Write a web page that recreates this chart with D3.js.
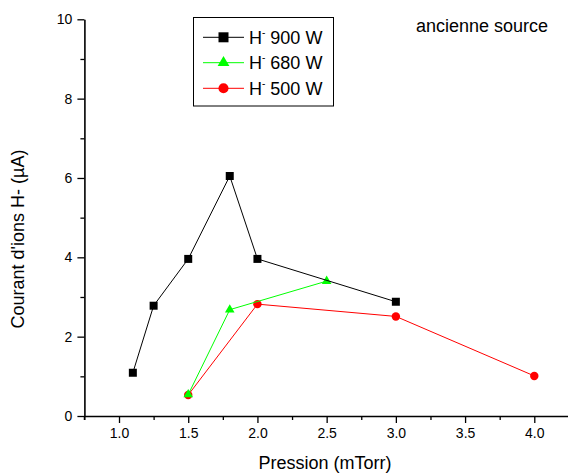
<!DOCTYPE html>
<html><head><meta charset="utf-8">
<script src="https://cdn.jsdelivr.net/npm/d3@7"></script>
<style>
html,body{margin:0;padding:0;background:#fff;}
svg{display:block;font-family:"Liberation Sans",Arial,sans-serif;}
</style></head>
<body><svg id="c" width="568" height="473"></svg>
<script>
const pressure900 = [1.1, 1.25, 1.5, 1.8, 2.0, 3.0];
const current900  = [1.09, 2.78, 3.96, 6.05, 3.96, 2.88];
const pressure680 = [1.5, 1.8, 2.5];
const current680  = [0.54, 2.68, 3.40];
const pressure500 = [1.5, 2.0, 3.0, 4.0];
const current500  = [0.53, 2.82, 2.51, 1.01];
const xMajorTicks = [1.0, 1.5, 2.0, 2.5, 3.0, 3.5, 4.0];
const xMinorTicks = [0.75, 1.25, 1.75, 2.25, 2.75, 3.25, 3.75];
const yMajorTicks = [0, 2, 4, 6, 8, 10];
const yMinorTicks = [1, 3, 5, 7, 9];
const seriesNames = ["900 W", "680 W", "500 W"];

const svg = d3.select("#c");
const x = d3.scaleLinear().domain([0.75, 4.25]).range([84.4, 568.9]);
const y = d3.scaleLinear().domain([0, 10]).range([416, 19.3]);

// axes
const gx = svg.append("g").attr("transform", "translate(0,416)");
gx.call(d3.axisBottom(x).tickValues(xMinorTicks).tickSize(4).tickFormat(""));
gx.call(g => g.select(".domain").remove());
const gx2 = svg.append("g").attr("transform", "translate(0,416)");
gx2.call(d3.axisBottom(x).tickValues(xMajorTicks).tickSize(7).tickPadding(5).tickFormat(d3.format(".1f")).tickSizeOuter(0));
gx2.selectAll("text").attr("font-size", 14).attr("fill", "#000").attr("font-family", "Liberation Sans, Arial, sans-serif");

const gy = svg.append("g").attr("transform", "translate(84.4,0)");
gy.call(d3.axisLeft(y).tickValues(yMinorTicks).tickSize(4).tickFormat(""));
gy.call(g => g.select(".domain").remove());
const gy2 = svg.append("g").attr("transform", "translate(84.4,0)");
gy2.call(d3.axisLeft(y).tickValues(yMajorTicks).tickSize(7).tickPadding(5).tickFormat(d3.format("d")).tickSizeOuter(0));
gy2.selectAll("text").attr("font-size", 14).attr("fill", "#000").attr("font-family", "Liberation Sans, Arial, sans-serif");
svg.selectAll(".tick line").attr("stroke", "#000").attr("stroke-width", 1.3);
svg.selectAll(".domain").attr("stroke", "#000").attr("stroke-width", 1.6);

// y axis slight extension below x axis
svg.append("line").attr("x1", 84.4).attr("x2", 84.4).attr("y1", 416).attr("y2", 420).attr("stroke", "#000").attr("stroke-width", 1.3);

const line = d3.line().x(d => x(d[0])).y(d => y(d[1]));
const zip = (a, b) => a.map((v, i) => [v, b[i]]);
const d900 = zip(pressure900, current900);
const d680 = zip(pressure680, current680);
const d500 = zip(pressure500, current500);

const sym = (type, size) => d3.symbol().type(type).size(size)();

// red
svg.append("path").attr("d", line(d500)).attr("fill", "none").attr("stroke", "#ff0000").attr("stroke-width", 1);
svg.selectAll(".r").data(d500).enter().append("path")
  .attr("d", sym(d3.symbolCircle, 56)).attr("transform", d => `translate(${x(d[0])},${y(d[1])})`).attr("fill", "#ff0000");
// green
svg.append("path").attr("d", line(d680)).attr("fill", "none").attr("stroke", "#00ff00").attr("stroke-width", 1);
svg.selectAll(".g").data(d680).enter().append("path")
  .attr("d", sym(d3.symbolTriangle, 40)).attr("transform", d => `translate(${x(d[0])},${y(d[1])})`).attr("fill", "#00ff00");
// black
svg.append("path").attr("d", line(d900)).attr("fill", "none").attr("stroke", "#000").attr("stroke-width", 1);
svg.selectAll(".b").data(d900).enter().append("path")
  .attr("d", sym(d3.symbolSquare, 64)).attr("transform", d => `translate(${x(d[0])},${y(d[1])})`).attr("fill", "#000");

// axis titles
svg.append("text").attr("x", 325).attr("y", 469).attr("text-anchor", "middle").attr("font-size", 18).text("Pression (mTorr)");
svg.append("text").attr("transform", "translate(23.5,239) rotate(-90)").attr("text-anchor", "middle").attr("font-size", 18).text("Courant d'ions H- (µA)");

// annotation
svg.append("text").attr("x", 416).attr("y", 32).attr("font-size", 18).text("ancienne source");

// legend
svg.append("rect").attr("x", 193.5).attr("y", 17.5).attr("width", 140).attr("height", 88.5).attr("fill", "#fff").attr("stroke", "#000").attr("stroke-width", 1);
const legColors = ["#000", "#00ff00", "#ff0000"];
const legSyms = [sym(d3.symbolSquare, 100), sym(d3.symbolTriangle, 60), sym(d3.symbolCircle, 80)];
const legY = [37.3, 62.7, 88.3];
seriesNames.forEach((name, i) => {
  const g = svg.append("g");
  g.append("line").attr("x1", 203).attr("x2", 244).attr("y1", legY[i]).attr("y2", legY[i]).attr("stroke", legColors[i]).attr("stroke-width", 1);
  g.append("path").attr("d", legSyms[i]).attr("transform", `translate(223.5,${legY[i]})`).attr("fill", legColors[i]);
  const t = g.append("text").attr("x", 249).attr("y", legY[i] + 6.5).attr("font-size", 18);
  t.append("tspan").text("H");
  t.append("tspan").attr("font-size", 10).attr("dy", -8).text("-");
  t.append("tspan").attr("dy", 8).text(" " + name);
});
</script></body></html>
